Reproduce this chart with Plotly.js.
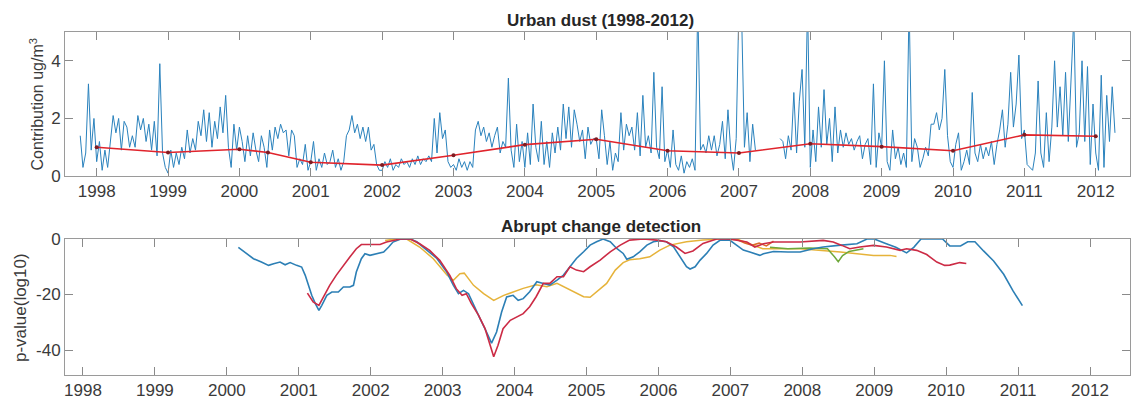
<!DOCTYPE html>
<html>
<head>
<meta charset="utf-8">
<script src="https://cdn.plot.ly/plotly-3.0.1.min.js"></script>
<style>html,body{margin:0;padding:0;background:#fff;}#chart{width:1131px;height:404px;}</style>
</head>
<body>
<div id="chart"></div>
<script>
// ---------- Top panel: urban dust contribution (ug/m3), ~bi-weekly readings ----------
const samplesPerYear = 26;
const dust1997 = [1.4, 0.3, 0.8, 3.2, 0.9, 2.0]; // last weeks of 1997
const dust1998 = [0.5,1.2,0.2,0.9,0.3,1.3,2.1,1.5,2.0,0.9,1.9,1.7,1.0,1.4,1.0,2.1,1.6,2.0,1.2,1.8,0.9,1.9,0.7,3.9,0.8,0.3];
const dust1999 = [0.1,0.9,0.3,0.8,0.4,1.0,0.6,1.6,0.8,1.3,0.9,1.9,1.4,2.3,1.2,2.2,1.0,1.9,1.3,2.4,1.5,2.8,1.0,0.3,1.8,0.9];
const dust2000 = [1.7,1.2,0.5,1.4,0.7,1.5,0.9,0.5,1.4,1.0,0.3,1.6,0.9,1.7,1.3,1.8,1.5,1.6,0.7,1.6,1.4,0.3,0.6,0.4,1.1,0.2];
const dust2001 = [0.5,1.2,0.2,0.6,0.3,0.8,0.4,0.5,0.9,0.3,0.6,0.2,0.5,1.4,1.6,2.1,1.5,1.8,1.3,1.7,1.2,1.7,0.9,1.1,0.4,0.2];
const dust2002 = [0.2,0.5,0.3,0.6,0.2,0.4,0.3,0.6,0.4,0.5,0.3,0.6,0.4,0.7,0.4,0.6,0.5,0.7,0.5,2.0,0.8,2.2,1.3,1.6,0.5,0.3];
const dust2003 = [0.4,0.2,0.6,0.3,0.5,0.2,0.5,0.3,1.6,1.9,1.4,1.7,1.2,1.5,1.0,1.4,1.7,0.8,1.2,1.0,3.4,0.9,0.3,1.8,0.5,1.2];
const dust2004 = [0.3,1.5,0.4,2.5,1.0,0.5,1.9,0.4,1.2,0.3,1.5,0.8,1.7,0.9,2.5,1.3,2.4,1.0,2.3,1.8,1.2,1.6,0.6,1.7,1.1,1.3];
const dust2005 = [1.3,0.6,2.3,1.4,0.4,1.2,0.2,0.8,0.5,2.2,0.9,1.8,1.4,1.7,0.9,2.2,0.7,2.8,1.0,1.4,0.8,3.6,1.0,0.6,3.1,0.5];
const dust2006 = [0.9,0.3,1.6,0.4,0.2,0.7,0.1,0.5,0.3,0.6,0.2,6.0,0.9,1.1,0.8,1.4,0.9,1.4,0.7,1.1,1.9,0.6,2.3,0.9,0.2,1.3];
const dust2007 = [6.0,5.5,1.0,2.2,0.5,1.8,0.9,null,null,null,null,null,null,null,null,1.3,1.2,0.6,1.4,0.9,2.9,0.8,2.6,3.7,1.0,6.0];
const dust2008 = [0.3,1.6,0.5,2.4,1.0,3.0,1.1,2.0,0.5,2.4,0.8,1.6,1.0,1.5,1.1,1.3,0.9,1.2,1.4,0.6,1.1,1.3,0.4,3.2,0.3,1.5];
const dust2009 = [1.0,4.0,0.5,0.2,1.6,0.6,1.0,0.4,0.8,0.3,6.0,0.5,1.3,1.0,0.3,0.6,1.0,0.7,1.8,1.8,2.2,1.6,2.0,3.7,1.4,0.5];
const dust2010 = [0.3,1.1,1.5,0.2,0.5,0.9,0.4,2.9,0.8,0.5,1.1,0.6,1.0,0.7,1.2,0.4,1.1,1.6,2.3,1.0,1.8,3.6,1.7,2.5,4.2,1.3];
const dust2011 = [1.6,0.4,0.3,0.2,0.8,3.3,0.8,0.3,2.2,0.5,1.7,4.0,1.7,3.1,1.4,3.6,1.2,3.4,5.5,1.0,1.5,4.0,1.2,3.8,0.4,2.5];
const dust2012 = [0.8,0.2,3.5,0.3,2.8,1.2,3.1,1.5];

const dustYears = [1998,1999,2000,2001,2002,2003,2004,2005,2006,2007,2008,2009,2010,2011,2012];
const dustSeries = [dust1998,dust1999,dust2000,dust2001,dust2002,dust2003,dust2004,dust2005,dust2006,dust2007,dust2008,dust2009,dust2010,dust2011,dust2012];

// trend of the contribution (yearly nodes)
const trendYears  = [1998.0,1999.0,2000.0,2000.4,2001.0,2002.0,2003.0,2004.0,2005.0,2006.0,2007.0,2008.0,2009.0,2010.0,2011.0,2012.0];
const trendValues = [1.0,0.82,0.93,0.82,0.48,0.38,0.72,1.09,1.28,0.88,0.80,1.12,1.02,0.88,1.43,1.38];

// ---------- Bottom panel: abrupt change detection, p-value (log10) ----------
const pvBlue = [[2000.16,-3],[2000.28,-5.3],[2000.37,-7.1],[2000.48,-8.3],[2000.58,-9.5],[2000.65,-8.9],[2000.74,-8.3],[2000.81,-9.3],[2000.88,-8.5],[2000.97,-9.5],[2001.04,-10.1],[2001.09,-13.1],[2001.13,-16.7],[2001.18,-20.3],[2001.23,-23.3],[2001.28,-25.7],[2001.32,-23.9],[2001.39,-20.3],[2001.46,-19.1],[2001.55,-19.1],[2001.62,-17.3],[2001.71,-17.3],[2001.76,-16.7],[2001.80,-11.9],[2001.87,-7.1],[2001.92,-5.3],[2001.99,-5.9],[2002.11,-5.3],[2002.18,-4.7],[2002.25,-2.9],[2002.31,-1.1],[2002.41,-0.1],[2002.55,0],[2002.64,-1],[2002.78,-4],[2002.92,-7],[2003.06,-12],[2003.15,-16.7],[2003.22,-19.7],[2003.29,-18.5],[2003.36,-19.7],[2003.43,-23.9],[2003.52,-28.7],[2003.61,-33.5],[2003.68,-37.5],[2003.75,-33.5],[2003.82,-26.3],[2003.89,-20.9],[2003.98,-20.3],[2004.05,-22.1],[2004.12,-21.5],[2004.21,-19],[2004.31,-15.4],[2004.40,-16],[2004.49,-16.6],[2004.59,-14.8],[2004.68,-13],[2004.77,-10],[2004.86,-7],[2004.96,-4.6],[2005.05,-2.2],[2005.14,-1],[2005.23,0],[2005.33,-1],[2005.42,-3.4],[2005.51,-5.2],[2005.56,-7.3],[2005.65,-6.4],[2005.74,-4.6],[2005.84,-2.2],[2005.93,-1],[2006.02,-0.6],[2006.11,-1],[2006.21,-2.8],[2006.30,-6.4],[2006.39,-10],[2006.44,-10.8],[2006.51,-10],[2006.58,-7.6],[2006.67,-5.2],[2006.76,-2.2],[2006.86,-0.4],[2006.99,-0.4],[2007.09,-2.2],[2007.18,-4],[2007.27,-4.7],[2007.34,-5.3],[2007.41,-5.9],[2007.46,-5.3],[2007.60,-4.5],[2007.80,-4.7],[2007.97,-4.7],[2008.15,-3.5],[2008.29,-2.9],[2008.50,-2.3],[2008.76,-1.7],[2008.90,0],[2009.00,0],[2009.15,-1.5],[2009.30,-3],[2009.45,-5],[2009.55,-3],[2009.65,0],[2009.80,0],[2009.95,0],[2010.05,-2.5],[2010.20,-2.5],[2010.30,-1],[2010.40,-1],[2010.52,-4.3],[2010.66,-7.9],[2010.80,-12.7],[2010.93,-18.7],[2011.06,-24]];
const pvRed = [[2001.12,-19.5],[2001.20,-22.7],[2001.28,-23.9],[2001.34,-20.9],[2001.43,-16.7],[2001.52,-13.1],[2001.62,-9.5],[2001.71,-6.5],[2001.80,-3.5],[2001.87,-2.0],[2001.99,-2.0],[2002.13,-2.0],[2002.22,-1.1],[2002.31,-0.5],[2002.41,0],[2002.55,0],[2002.68,-1.7],[2002.82,-4.1],[2002.96,-7.7],[2003.10,-13.1],[2003.19,-17.9],[2003.27,-20.3],[2003.33,-19.7],[2003.40,-23.3],[2003.50,-27.5],[2003.59,-32.3],[2003.66,-38.3],[2003.71,-42.4],[2003.77,-38.3],[2003.84,-32.3],[2003.94,-29.3],[2004.03,-28.1],[2004.12,-26.9],[2004.21,-24.4],[2004.30,-20.8],[2004.40,-16],[2004.49,-16],[2004.59,-13.6],[2004.68,-13.6],[2004.77,-10],[2004.86,-11.2],[2004.96,-11.8],[2005.05,-10],[2005.19,-7.6],[2005.33,-4.6],[2005.47,-2.2],[2005.60,-0.4],[2005.79,0],[2005.98,-0.4],[2006.11,-1.0],[2006.25,-2.9],[2006.37,-5.2],[2006.48,-4.3],[2006.62,-1.6],[2006.81,0],[2006.99,0],[2007.10,-0.4],[2007.23,-1.1],[2007.34,-2.9],[2007.46,-1.7],[2007.60,-1.1],[2007.97,-1.1],[2008.29,-0.5],[2008.43,-1.1],[2008.55,-2.3],[2008.66,-3.5],[2008.80,-2.9],[2008.99,-2.3],[2009.17,-2.9],[2009.36,-4.1],[2009.45,-3.5],[2009.59,-4.1],[2009.73,-5.6],[2009.87,-8.3],[2009.98,-9.5],[2010.05,-9.4],[2010.19,-8.5],[2010.28,-8.8]];
const pvYellow = [[2002.20,-0.5],[2002.35,0],[2002.50,0],[2002.68,-2.9],[2002.87,-7.1],[2003.06,-13],[2003.15,-14.9],[2003.24,-12.5],[2003.30,-12.3],[2003.43,-16.7],[2003.57,-19.7],[2003.71,-22.1],[2003.85,-20.3],[2003.98,-19.1],[2004.12,-17.8],[2004.30,-16.5],[2004.45,-17.2],[2004.59,-16],[2004.77,-18.4],[2004.96,-20.8],[2005.05,-21],[2005.14,-19],[2005.28,-16],[2005.40,-11.2],[2005.51,-8.5],[2005.60,-7.5],[2005.74,-7.1],[2005.88,-6.4],[2006.02,-4],[2006.16,-2.2],[2006.39,-1],[2006.62,-0.4],[2006.86,0],[2007.09,0],[2007.25,-1.5],[2007.45,-3.5],[2007.97,-3.5],[2008.30,-4.1],[2008.53,-4.7],[2008.76,-5.3],[2008.99,-5.9],[2009.22,-5.9],[2009.31,-6.3]];
const pvGreen = [[2007.55,-3.0],[2007.80,-3.5],[2008.10,-3.2],[2008.35,-3.5],[2008.45,-6.5],[2008.50,-8.2],[2008.56,-6.0],[2008.65,-4.5],[2008.85,-3.5]];
const pvOrange = [[2006.95,0],[2007.10,-0.3],[2007.20,-1.5],[2007.30,-2.2],[2007.40,-1.5],[2007.50,-2.5],[2007.60,-0.8]];

const tickYears = [1998,1999,2000,2001,2002,2003,2004,2005,2006,2007,2008,2009,2010,2011,2012];
const dustTicks = [0, 2, 4];
const pvTicks = [0, -20, -40];

// ---------- build traces ----------
const dustX = [], dustY = [];
dust1997.forEach((v, i) => { dustX.push(1998 - (dust1997.length - i) / samplesPerYear); dustY.push(v); });
dustSeries.forEach((arr, k) => {
  arr.forEach((v, i) => { dustX.push(dustYears[k] + i / samplesPerYear); dustY.push(v); });
});

function pv(arr, color, width) {
  return {x: arr.map(p => p[0]), y: arr.map(p => p[1]), type: 'scatter', mode: 'lines',
          xaxis: 'x2', yaxis: 'y2', line: {color: color, width: width}, hoverinfo: 'skip'};
}

const traces = [
  {x: dustX, y: dustY, type: 'scatter', mode: 'lines', xaxis: 'x', yaxis: 'y',
   line: {color: '#2a82bd', width: 1}, connectgaps: false, hoverinfo: 'skip'},
  {x: trendYears, y: trendValues, type: 'scatter', mode: 'lines+markers', xaxis: 'x', yaxis: 'y',
   line: {color: '#e0242c', width: 1.6}, marker: {color: '#7d1c22', size: 4}, hoverinfo: 'skip'},
  pv(pvYellow, '#e6b33a', 1.5),
  pv(pvGreen, '#6ea83a', 1.5),
  pv(pvOrange, '#dc6a2a', 1.5),
  pv(pvBlue, '#2c7fb5', 1.6),
  pv(pvRed, '#cc2b45', 1.6)
];

const axisCommon = {
  ticks: 'inside', ticklen: 8, tickcolor: '#8a8a8a', tickwidth: 1,
  showline: true, linecolor: '#9a9a9a', linewidth: 1, mirror: 'ticks',
  showgrid: false, zeroline: false,
  tickfont: {family: 'Liberation Sans, Arial, sans-serif', size: 17, color: '#3a3a3a'}
};

const layout = {
  width: 1131, height: 404,
  margin: {l: 65, r: 1, t: 32, b: 29},
  paper_bgcolor: '#ffffff', plot_bgcolor: '#ffffff',
  showlegend: false,
  font: {family: 'Liberation Sans, Arial, sans-serif', size: 17, color: '#262626'},
  xaxis: Object.assign({}, axisCommon, {domain: [0, 1], anchor: 'y', range: [1997.556, 2012.48], tickvals: tickYears, ticktext: tickYears.map(String)}),
  yaxis: Object.assign({}, axisCommon, {domain: [0.580, 1], anchor: 'x', range: [0, 5], tickvals: dustTicks, ticktext: dustTicks.map(String)}),
  xaxis2: Object.assign({}, axisCommon, {domain: [0, 1], anchor: 'y2', range: [1997.75, 2012.556], tickvals: tickYears, ticktext: tickYears.map(String)}),
  yaxis2: Object.assign({}, axisCommon, {domain: [0, 0.3965], anchor: 'x2', range: [-49, 0], tickvals: pvTicks, ticktext: pvTicks.map(String)}),
  annotations: [
    {text: '<b>Urban dust (1998-2012)</b>', xref: 'paper', yref: 'paper', x: 0.503, y: 1.0335,
     xanchor: 'center', yanchor: 'middle', showarrow: false,
     font: {family: 'Liberation Sans, Arial, sans-serif', size: 17, color: '#262626'}},
    {text: '<b>Abrupt change detection</b>', xref: 'paper', yref: 'paper', x: 0.503, y: 0.4344,
     xanchor: 'center', yanchor: 'middle', showarrow: false,
     font: {family: 'Liberation Sans, Arial, sans-serif', size: 17, color: '#262626'}},
    {text: 'Contribution ug/m<sup>3</sup>', xref: 'paper', yref: 'paper', x: -0.0272, y: 0.7886,
     xanchor: 'center', yanchor: 'middle', textangle: -90, showarrow: false,
     font: {family: 'Liberation Sans, Arial, sans-serif', size: 16, color: '#3a3a3a'}},
    {text: 'p-value(log10)', xref: 'paper', yref: 'paper', x: -0.0423, y: 0.198,
     xanchor: 'center', yanchor: 'middle', textangle: -90, showarrow: false,
     font: {family: 'Liberation Sans, Arial, sans-serif', size: 17, color: '#3a3a3a'}}
  ]
};

Plotly.newPlot('chart', traces, layout, {staticPlot: true, displayModeBar: false});
</script>
</body>
</html>
